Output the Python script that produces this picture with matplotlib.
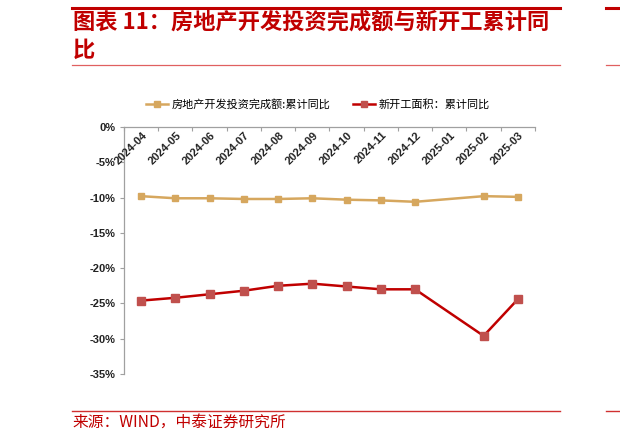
import matplotlib
matplotlib.use("Agg")
import matplotlib.pyplot as plt
import numpy as np

plt.rcParams['font.family'] = ['Noto Sans CJK SC', 'DejaVu Sans']

months = ['2024-04', '2024-05', '2024-06', '2024-07', '2024-08', '2024-09',
          '2024-10', '2024-11', '2024-12', '2025-01', '2025-02', '2025-03']
# cumulative yoy, %; January has no release (NaN)
invest = [-9.8, -10.1, -10.1, -10.2, -10.2, -10.1, -10.3, -10.4, -10.6, np.nan, -9.8, -9.9]
new_start = [-24.6, -24.2, -23.7, -23.2, -22.5, -22.2, -22.6, -23.0, -23.0, np.nan, -29.6, -24.4]
y_ticks = [0, -5, -10, -15, -20, -25, -30, -35]

title = '图表 11：房地产开发投资完成额与新开工累计同\n比'
source = '来源：WIND，中泰证券研究所'
lab_invest = '房地产开发投资完成额:累计同比'
lab_start = '新开工面积：累计同比'

RED = '#C00000'
TAN = '#D6A75E'
NUM_FONT = ['Liberation Sans', 'DejaVu Sans']

W, H = 620, 442
fig = plt.figure(figsize=(W / 100, H / 100), dpi=100)

def fx(px): return px / W
def fy(py): return 1 - py / H

# header / footer decoration lines
fig.add_artist(plt.Line2D([fx(72), fx(560)], [fy(8), fy(8)], color=RED, lw=2.2))
fig.add_artist(plt.Line2D([fx(606), fx(620)], [fy(8), fy(8)], color=RED, lw=2.2))
fig.add_artist(plt.Line2D([fx(72), fx(560)], [fy(65), fy(65)], color='#E06060', lw=0.9))
fig.add_artist(plt.Line2D([fx(606), fx(620)], [fy(65), fy(65)], color='#E06060', lw=0.9))
fig.add_artist(plt.Line2D([fx(72), fx(560)], [fy(411), fy(411)], color='#D03030', lw=1.0))
fig.add_artist(plt.Line2D([fx(606), fx(620)], [fy(411), fy(411)], color='#D03030', lw=1.0))

fig.text(fx(73), fy(11), title, color=RED, fontsize=16, fontweight='bold',
         style='italic', va='top', ha='left', linespacing=1.25)
fig.text(fx(72), fy(422), source, color=RED, fontsize=11.3, va='center', ha='left')

ax = fig.add_axes([fx(124), fy(374), fx(535) - fx(124), fy(127) - fy(374)])
x = np.arange(len(months))
inv = np.array(invest)
ns = np.array(new_start)
ok = ~np.isnan(inv)
ax.plot(x[ok], inv[ok], color=TAN, lw=1.8, marker='s', ms=5,
        mfc=TAN, mec=TAN, label=lab_invest)
ok = ~np.isnan(ns)
ax.plot(x[ok], ns[ok], color=RED, lw=1.8, marker='s', ms=5.5,
        mfc='#C0504D', mec='#C0504D', label=lab_start)

ax.set_xlim(-0.5, len(months) - 0.5)
ax.set_ylim(-35, 0)
ax.set_yticks(y_ticks)
ax.set_yticklabels([f'{v}%' for v in y_ticks], fontsize=8, color='#222222',
                   family=NUM_FONT, fontweight='bold')
ax.tick_params(axis='y', length=3, color='#A0A0A0', width=0.8, pad=3)

# category axis at the top, labels hanging inside the plot
ax.xaxis.set_ticks_position('top')
ax.set_xticks(np.arange(len(months) + 1) - 0.5)
ax.set_xticklabels([])
ax.tick_params(axis='x', direction='in', length=3, color='#A0A0A0', width=0.8)
for i, m in enumerate(months):
    ax.text(i + 0.12, -0.95, m, rotation=45, rotation_mode='anchor',
            ha='right', va='center', fontsize=8, color='#222222',
            family=NUM_FONT, fontweight='bold')

for s in ['right', 'bottom']:
    ax.spines[s].set_visible(False)
for s in ['left', 'top']:
    ax.spines[s].set_color('#A0A0A0')
    ax.spines[s].set_linewidth(0.9)

fig.legend(loc='center', bbox_to_anchor=(fx(318), fy(104)), ncol=2, frameon=False,
           fontsize=8, handlelength=2.0, columnspacing=2.0, handletextpad=0.3,
           markerscale=0.8)

fig.savefig('out.png', dpi=100)
